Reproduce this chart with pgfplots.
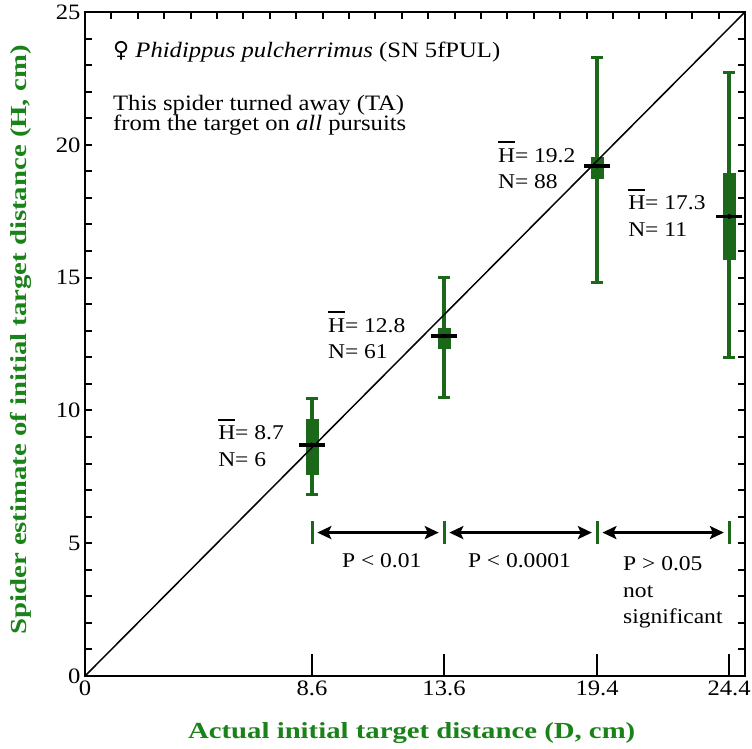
\documentclass[border=0pt]{standalone}
\usepackage{pgfplots}
\pgfplotsset{compat=1.18}
\usepackage{fontspec}
\setmainfont{Liberation Serif}[FakeStretch=1.12]
\newfontfamily\labfont{Liberation Serif}[FakeStretch=1.25]
\newfontfamily\symfont{DejaVu Sans}
\usetikzlibrary{arrows.meta}
\definecolor{boxgreen}{RGB}{27,104,27}
\definecolor{labgreen}{RGB}{25,130,25}
\newcommand{\Hbar}{\leavevmode\rlap{\raisebox{0.9em}{\rule{0.8em}{0.09em}}}H}
\begin{document}
\begin{tikzpicture}
\useasboundingbox (-85pt,-72pt) rectangle (667pt,676pt);
% ticks on top, left and right (short)
\begin{axis}[
  scale only axis, width=660pt, height=664pt,
  xmin=0, xmax=25, ymin=0, ymax=25,
  axis line style={line width=2.6pt},
  tick align=inside,
  major tick length=7pt, minor tick length=7pt,
  every tick/.style={black, line width=2pt},
  xtick={1,...,24}, xticklabels={}, xtick pos=right,
  ytick={0,5,...,25}, yticklabels={0,5,10,15,20,25},
  minor ytick={1,...,24},
  ytick pos=both, yticklabel pos=left,
  tick label style={font=\fontsize{22}{22}\selectfont},
  yticklabel style={xshift=-1pt},
]
\end{axis}
\begin{axis}[
  scale only axis, width=660pt, height=664pt,
  xmin=0, xmax=25, ymin=0, ymax=25,
  axis line style={line width=2.6pt},
  tick align=inside,
  major tick length=22pt,
  every tick/.style={black, line width=2pt},
  xtick={0,8.6,13.6,19.4,24.4}, xticklabels={0,8.6,13.6,19.4,24.4},
  xtick pos=left,
  ytick=\empty,
  tick label style={font=\fontsize{22}{22}\selectfont},
  xticklabel style={yshift=-1pt},
  xlabel={Actual initial target distance (D, cm)},
  ylabel={Spider estimate of initial target distance (H, cm)},
  xlabel style={font=\labfont\bfseries\fontsize{23}{23}\selectfont, text=labgreen,
    at={(axis description cs:0.495,0)}, anchor=base, yshift=-62pt},
  ylabel style={font=\labfont\bfseries\fontsize{23}{23}\selectfont, text=labgreen,
    at={(axis description cs:-0.097,0.506)}, anchor=center},
  clip=false,
]
% whiskers
\addplot[only marks, mark=none,
  error bars/.cd, y dir=both, y explicit,
  error bar style={line width=4pt, draw=boxgreen},
  error mark=-, error mark options={rotate=90, line width=3pt, draw=boxgreen, mark size=6pt}]
  coordinates {
  (8.6,8.7) += (0,1.73) -= (0,1.85)
  (13.6,12.8) += (0,2.2) -= (0,2.33)
  (19.4,19.2) += (0,4.07) -= (0,4.37)
  (24.4,17.3) += (0,5.44) -= (0,5.3)
  };
% boxes
\addplot[only marks, mark=none,
  error bars/.cd, y dir=both, y explicit,
  error bar style={line width=13pt, draw=boxgreen},
  error mark=none]
  coordinates {
  (8.6,8.7) += (0,0.98) -= (0,1.13)
  (13.6,12.8) += (0,0.3) -= (0,0.5)
  (19.4,19.2) += (0,0.34) -= (0,0.49)
  (24.4,17.3) += (0,1.64) -= (0,1.64)
  };
% identity line
\addplot[black, line width=1.5pt] coordinates {(0,0) (25,25)};
% means
\addplot[only marks, mark=-, mark size=13pt, mark options={line width=3.5pt, black}]
  coordinates {(8.6,8.7) (13.6,12.8) (19.4,19.2) (24.4,17.3)};
% significance brackets
\draw[boxgreen, line width=3pt] (axis cs:8.6,4.97) -- (axis cs:8.6,5.85);
\draw[boxgreen, line width=3pt] (axis cs:13.6,4.97) -- (axis cs:13.6,5.85);
\draw[boxgreen, line width=3pt] (axis cs:19.4,4.97) -- (axis cs:19.4,5.85);
\draw[boxgreen, line width=3pt] (axis cs:24.4,4.97) -- (axis cs:24.4,5.85);
\tikzset{sarr/.style={line width=2.7pt, {Stealth[length=14pt,width=13pt,inset=3pt]}-{Stealth[length=14pt,width=13pt,inset=3pt]}}}
\draw[sarr] (axis cs:8.8,5.4) -- (axis cs:13.4,5.4);
\draw[sarr] (axis cs:13.8,5.4) -- (axis cs:19.2,5.4);
\draw[sarr] (axis cs:19.6,5.4) -- (axis cs:24.2,5.4);
% text
\tikzset{tx/.style={anchor=base west, inner sep=0pt, font=\fontsize{21}{21}\selectfont}}
\tikzset{tx2/.style={anchor=base west, inner sep=0pt, font=\fontsize{22}{22}\selectfont}}
\node[tx2] at (axis cs:1.06,23.3) {{\symfont ♀} \textit{Phidippus pulcherrimus} (SN 5fPUL)};
\node[tx2] at (axis cs:1.06,21.31) {This spider turned away (TA)};
\node[tx2] at (axis cs:1.06,20.52) {from the target on \textit{all} pursuits};
\node[tx] at (axis cs:5.04,8.89) {\Hbar= 8.7};
\node[tx] at (axis cs:5.04,7.87) {N= 6};
\node[tx] at (axis cs:9.2,12.95) {\Hbar= 12.8};
\node[tx] at (axis cs:9.2,11.97) {N= 61};
\node[tx] at (axis cs:15.64,19.35) {\Hbar= 19.2};
\node[tx] at (axis cs:15.64,18.37) {N= 88};
\node[tx] at (axis cs:20.57,17.55) {\Hbar= 17.3};
\node[tx] at (axis cs:20.57,16.53) {N= 11};
\node[tx] at (axis cs:9.73,4.10) {P < 0.01};
\node[tx] at (axis cs:14.5,4.10) {P < 0.0001};
\node[tx] at (axis cs:20.38,3.99) {P > 0.05};
\node[tx] at (axis cs:20.38,2.97) {not};
\node[tx] at (axis cs:20.38,1.96) {significant};
\end{axis}
\end{tikzpicture}
\end{document}
